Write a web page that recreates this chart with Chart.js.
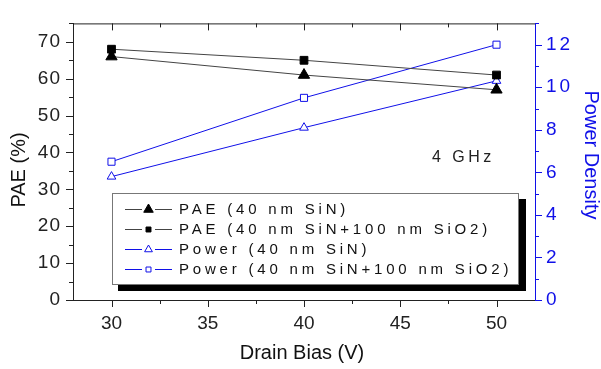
<!DOCTYPE html>
<html>
<head>
<meta charset="utf-8">
<script src="https://cdn.jsdelivr.net/npm/chart.js@4.4.1/dist/chart.umd.min.js"></script>
<style>
  body { margin: 0; background: #fff; }
  #wrap { width: 601px; height: 369px; position: relative; }
</style>
</head>
<body>
<div id="wrap"><canvas id="chart"></canvas></div>
<script>
// data
const drainBias = [30, 40, 50];
const paeSiN = [66, 61, 57];
const paeSiNSiO2 = [68, 65, 61];
const powerSiN = [5.8, 8.1, 10.3];
const powerSiNSiO2 = [6.5, 9.5, 12.0];

const xTicks = [30, 35, 40, 45, 50];
const yTicks = [0, 10, 20, 30, 40, 50, 60, 70];
const y1Ticks = [0, 2, 4, 6, 8, 10, 12];

const seriesLabels = [
    'PAE (40 nm SiN)',
    'PAE (40 nm SiN+100 nm SiO2)',
    'Power (40 nm SiN)',
    'Power (40 nm SiN+100 nm SiO2)'
];

const BLUE = '#1010e8';
const FONT = '"Liberation Sans", Arial, sans-serif';

function pts(ys) {
    return drainBias.map((x, i) => ({ x: x, y: ys[i] }));
}

function setTicks(values) {
    return function(scale) {
        scale.ticks = values.map(v => ({ value: v }));
    };
}

// draw a scale's tick labels with some letter spacing
function spacedLabels(scale, spacing) {
    if (scale._spaced) return;
    const orig = scale.drawLabels.bind(scale);
    scale.drawLabels = function(area) {
        scale.ctx.save();
        scale.ctx.letterSpacing = spacing;
        orig(area);
        scale.ctx.restore();
    };
    scale._spaced = true;
}

// tick marks (major + minor), top frame line, titles, legend box, note
const decorPlugin = {
    id: 'decor',
    afterDraw(chart) {
        const ctx = chart.ctx;
        const a = chart.chartArea;
        const sx = chart.scales.x, sy = chart.scales.y, sy1 = chart.scales.y1;
        ctx.save();
        ctx.lineWidth = 1;

        // top frame
        ctx.strokeStyle = '#222';
        ctx.beginPath();
        ctx.moveTo(a.left, a.top + 0.5);
        ctx.lineTo(a.right, a.top + 0.5);
        ctx.stroke();

        // x ticks, bottom outward, top inward
        for (let v = 27.5; v <= 52; v += 2.5) {
            if (v < sx.min || v > sx.max) continue;
            const px = Math.round(sx.getPixelForValue(v)) + 0.5;
            const len = (v % 5 === 0) ? 7 : 4;
            ctx.beginPath();
            ctx.moveTo(px, a.bottom);
            ctx.lineTo(px, a.bottom + len);
            ctx.moveTo(px, a.top);
            ctx.lineTo(px, a.top + len);
            ctx.stroke();
        }
        // left y ticks outward
        for (let v = 0; v <= 75; v += 5) {
            const py = Math.round(sy.getPixelForValue(v)) + 0.5;
            const len = (v % 10 === 0) ? 7 : 4;
            ctx.beginPath();
            ctx.moveTo(a.left, py);
            ctx.lineTo(a.left - len, py);
            ctx.stroke();
        }
        // right y ticks outward, blue
        ctx.strokeStyle = BLUE;
        for (let v = 0; v <= 13; v += 1) {
            const py = Math.round(sy1.getPixelForValue(v)) + 0.5;
            const len = (v % 2 === 0) ? 7 : 4;
            ctx.beginPath();
            ctx.moveTo(a.right, py);
            ctx.lineTo(a.right + len, py);
            ctx.stroke();
        }

        // axis titles
        ctx.fillStyle = '#111';
        ctx.font = '20px ' + FONT;
        ctx.textAlign = 'center';
        ctx.textBaseline = 'middle';
        ctx.fillText('Drain Bias (V)', 302, 353);

        ctx.save();
        ctx.translate(19, 170);
        ctx.rotate(-Math.PI / 2);
        ctx.fillText('PAE (%)', 0, 0);
        ctx.restore();

        ctx.save();
        ctx.fillStyle = BLUE;
        ctx.translate(591, 155);
        ctx.rotate(Math.PI / 2);
        ctx.fillText('Power Density', 0, 0);
        ctx.restore();

        // note
        ctx.fillStyle = '#222';
        ctx.font = '16px ' + FONT;
        ctx.letterSpacing = '3.5px';
        ctx.textAlign = 'left';
        ctx.fillText('4 GHz', 432, 158);

        // legend box with shadow
        const bx = 112, by = 193, bw = 407, bh = 92;
        ctx.fillStyle = '#000';
        ctx.fillRect(bx + 6, by + 6, bw + 1, bh);
        ctx.fillStyle = '#fff';
        ctx.fillRect(bx, by, bw, bh);
        ctx.strokeStyle = '#777';
        ctx.strokeRect(bx + 0.5, by + 0.5, bw - 1, bh - 1);

        const rowY = [209, 229, 249, 269];
        const legendRadius = [5.5, 3.5, 4.5, 3.5];
        ctx.font = '15px ' + FONT;
        ctx.letterSpacing = '3.8px';
        chart.data.datasets.forEach((ds, i) => {
            const y = rowY[i];
            ctx.strokeStyle = ds.borderColor;
            ctx.lineWidth = 1;
            ctx.beginPath();
            ctx.moveTo(125, y + 0.5);
            ctx.lineTo(142, y + 0.5);
            ctx.moveTo(155, y + 0.5);
            ctx.lineTo(172, y + 0.5);
            ctx.stroke();
            ctx.fillStyle = ds.pointBackgroundColor;
            ctx.strokeStyle = ds.pointBorderColor;
            Chart.helpers.drawPoint(ctx, {
                pointStyle: ds.pointStyle,
                radius: legendRadius[i],
                rotation: 0,
                borderWidth: 1
            }, 148.5, y + 0.5);
            ctx.fillStyle = '#111';
            ctx.textBaseline = 'middle';
            ctx.fillText(ds.label, 179, y + 1);
        });
        ctx.restore();
    }
};

const datasets = [
    {
        label: seriesLabels[0],
        data: pts(paeSiN),
        yAxisID: 'y',
        borderColor: '#444',
        borderWidth: 1,
        pointStyle: 'triangle',
        pointRadius: 6.5,
        pointBackgroundColor: '#000',
        pointBorderColor: '#000',
        pointBorderWidth: 1
    },
    {
        label: seriesLabels[1],
        data: pts(paeSiNSiO2),
        yAxisID: 'y',
        borderColor: '#444',
        borderWidth: 1,
        pointStyle: 'rect',
        pointRadius: 5.5,
        pointBackgroundColor: '#000',
        pointBorderColor: '#000',
        pointBorderWidth: 1
    },
    {
        label: seriesLabels[2],
        data: pts(powerSiN),
        yAxisID: 'y1',
        borderColor: BLUE,
        borderWidth: 1,
        pointStyle: 'triangle',
        pointRadius: 5,
        pointBackgroundColor: '#fff',
        pointBorderColor: BLUE,
        pointBorderWidth: 1
    },
    {
        label: seriesLabels[3],
        data: pts(powerSiNSiO2),
        yAxisID: 'y1',
        borderColor: BLUE,
        borderWidth: 1,
        pointStyle: 'rect',
        pointRadius: 5,
        pointBackgroundColor: '#fff',
        pointBorderColor: BLUE,
        pointBorderWidth: 1
    }
];

new Chart(document.getElementById('chart').getContext('2d'), {
    type: 'line',
    data: { datasets: datasets },
    options: {
        responsive: true,
        maintainAspectRatio: false,
        animation: false,
        layout: { padding: { top: 7, left: 0, right: 0, bottom: 0 } },
        plugins: {
            legend: { display: false },
            tooltip: { enabled: false }
        },
        scales: {
            x: {
                type: 'linear',
                position: 'bottom',
                min: 28,
                max: 52,
                afterBuildTicks: setTicks(xTicks),
                afterFit(scale) { scale.height = 69; },
                grid: { display: false, drawTicks: false },
                border: { display: true, color: '#222', width: 1 },
                ticks: { padding: 12, color: '#222', font: { family: FONT, size: 19 } }
            },
            y: {
                type: 'linear',
                position: 'left',
                min: 0,
                max: 75,
                afterBuildTicks: setTicks(yTicks),
                afterFit(scale) { scale.width = 73; spacedLabels(scale, '1px'); },
                grid: { display: false, drawTicks: false },
                border: { display: true, color: '#222', width: 1 },
                ticks: { padding: 12, color: '#222', font: { family: FONT, size: 19 } }
            },
            y1: {
                type: 'linear',
                position: 'right',
                min: 0,
                max: 13,
                afterBuildTicks: setTicks(y1Ticks),
                afterFit(scale) { scale.width = 66; spacedLabels(scale, '3px'); },
                grid: { display: false, drawTicks: false },
                border: { display: true, color: BLUE, width: 1 },
                ticks: { padding: 11, color: BLUE, font: { family: FONT, size: 19 } }
            }
        }
    },
    plugins: [decorPlugin]
});
</script>
</body>
</html>
